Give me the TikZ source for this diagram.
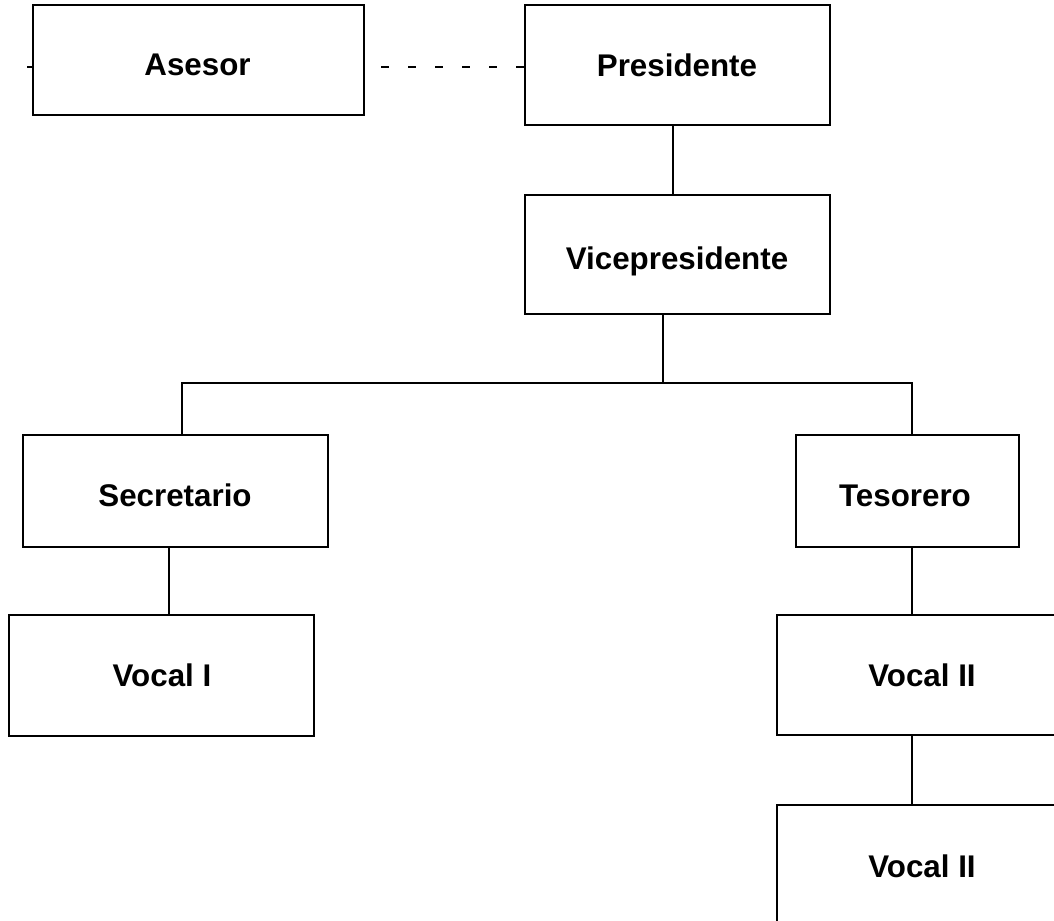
\documentclass[tikz,border=0pt]{standalone}
\usepackage{fontspec}
\setmainfont{Liberation Sans}
\begin{document}
\begin{tikzpicture}[x=0.75pt,y=-0.75pt,
  box/.style={draw, rectangle, line width=1.4pt, inner sep=0pt, outer sep=0pt},
  wh/.style 2 args={minimum width={#1*0.75pt}, minimum height={#2*0.75pt}},
  lbl/.style={font=\bfseries\fontsize{23.5}{28}\selectfont, inner sep=0pt, text height=16.8pt, text depth=0pt},
  conn/.style={line width=1.4pt},
  dashline/.style={line width=1.4pt, dash pattern=on 6pt off 14.25pt, dash phase=7.5pt}]
\useasboundingbox (0,0) rectangle (1054,921);
\clip (0,0) rectangle (1054,921);
% boxes
\node[box, wh={331}{110}] (ase) at (198.5,60) {};
\node[lbl] (aset) at (197.5,64) {Asesor};
\node[box, wh={305}{120}] (pre) at (677.5,65) {};
\node[lbl] (pret) at (677,65.5) {Presidente};
\node[box, wh={305}{119}] (vic) at (677.5,254.5) {};
\node[lbl] (vict) at (677,258) {Vicepresidente};
\node[box, wh={305}{112}] (sec) at (175.5,491) {};
\node[lbl] (sect) at (175,495) {Secretario};
\node[box, wh={223}{112}] (tes) at (907.5,491) {};
\node[lbl] (test) at (905,495) {Tesorero};
\node[box, wh={305}{121}] (vo1) at (161.5,675.5) {};
\node[lbl] (vo1t) at (162,675) {Vocal I};
\node[box, wh={290}{120}] (vo2) at (922,675) {};
\node[lbl] (vo2t) at (922,675) {Vocal II};
\node[box, wh={290}{120}] (vo3) at (922,865) {};
\node[lbl] (vo3t) at (922,866) {Vocal II};
% coordinates
\coordinate (tick) at (27,67);
\coordinate (dy) at (0,67);
\coordinate (bl) at (182,383);
\coordinate (br) at (912,383);
\coordinate (bm) at (663,383);
\coordinate (sx) at (169,0);
% connectors
\draw[conn] (tick) -- (ase.west |- dy);
\draw[dashline] (ase.east |- dy) -- (pre.west |- dy);
\draw[conn] ([xshift=-3.375pt]pre.south) -- ([xshift=-3.375pt]vic.north);
\draw[conn] (bm |- vic.south) -- (bm);
\draw[conn] (bl |- sec.north) -- (bl) -- (br) -- (br |- tes.north);
\draw[conn] (sx |- sec.south) -- (sx |- vo1.north);
\draw[conn] (br |- tes.south) -- (br |- vo2.north);
\draw[conn] (br |- vo2.south) -- (br |- vo3.north);
\end{tikzpicture}
\end{document}
